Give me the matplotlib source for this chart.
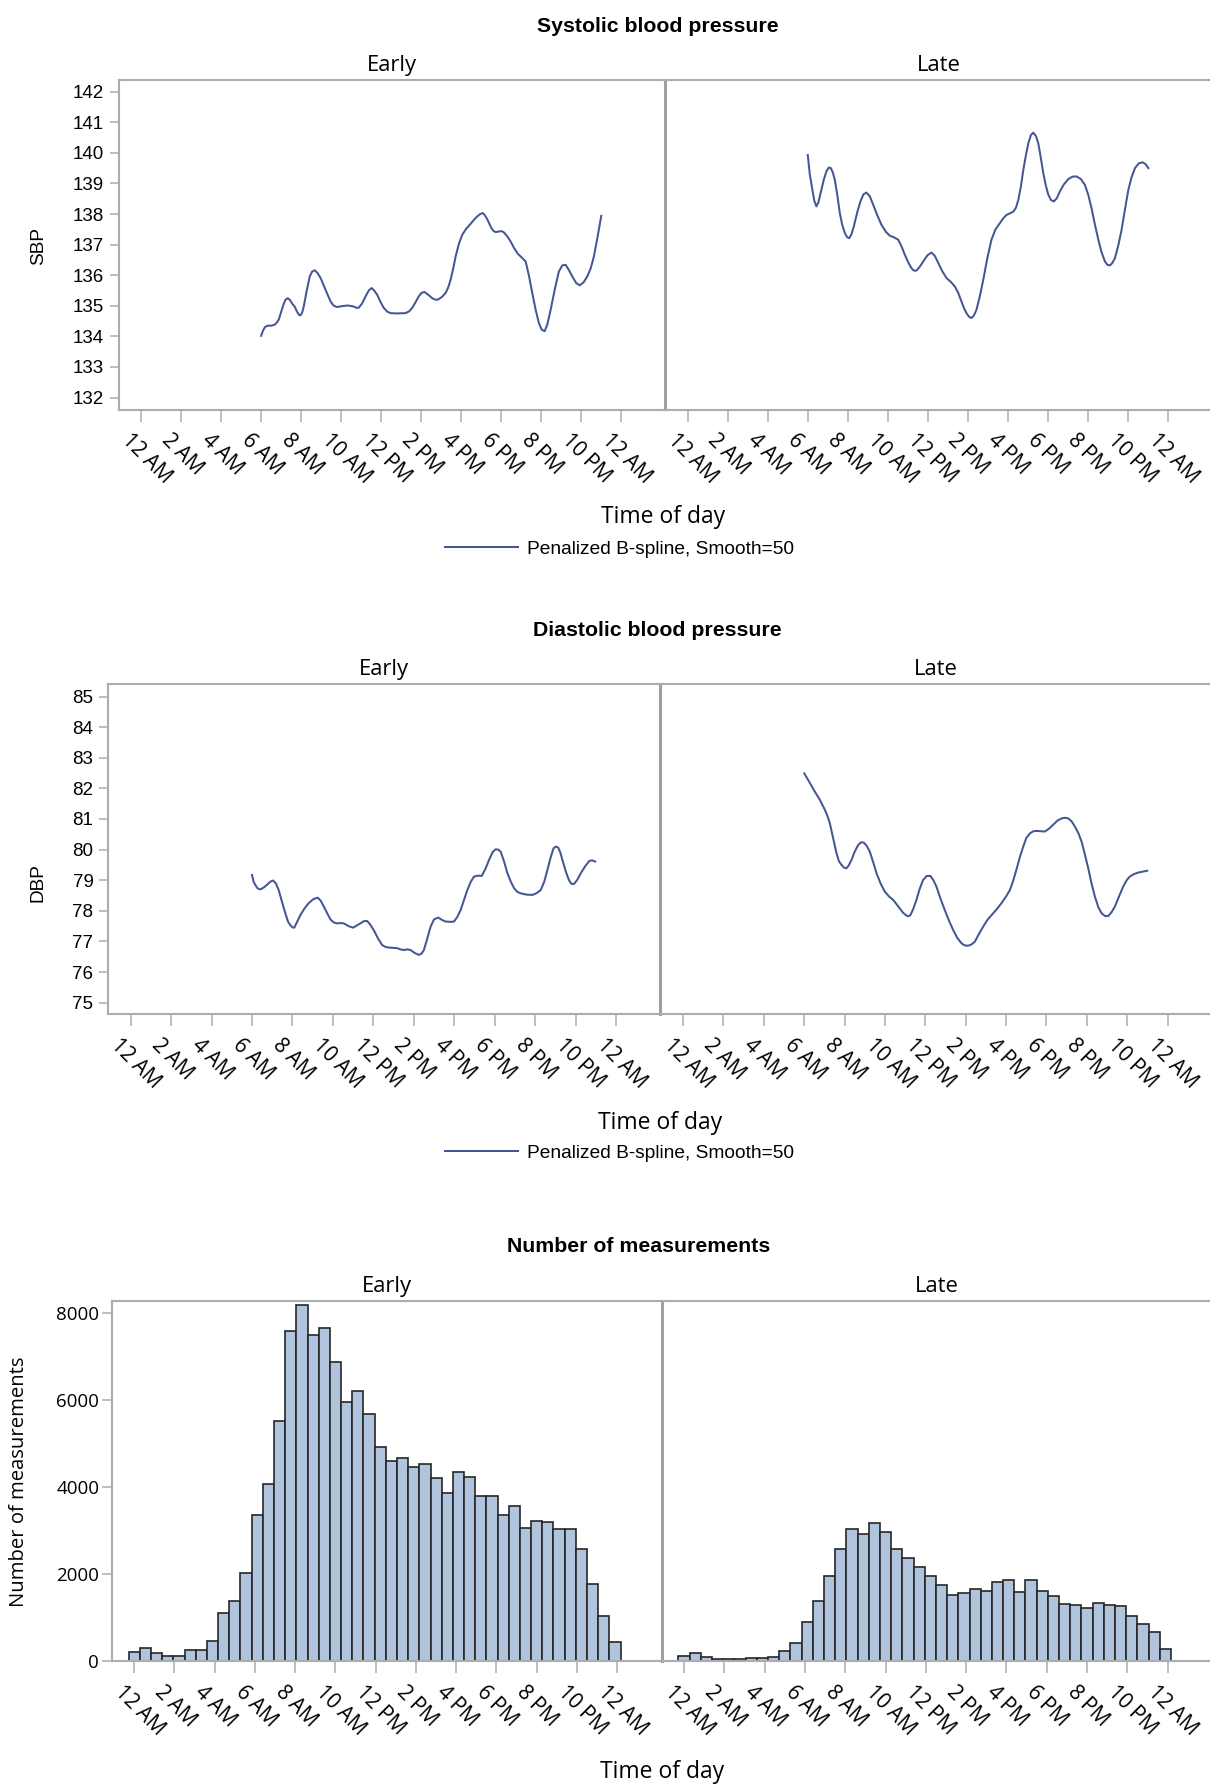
#!/usr/bin/env python3
"""Blood pressure by time of day, early vs late group.

Three stacked panels written to out.png:
  1. penalized B-spline fit of systolic blood pressure
  2. penalized B-spline fit of diastolic blood pressure
  3. number of measurements per 2000 s bin
"""

import matplotlib

matplotlib.use("Agg")
import matplotlib.pyplot as plt
import matplotlib.transforms as mtransforms
from matplotlib.lines import Line2D

FIG_W, FIG_H, DPI = 1210, 1784, 100

GROUPS = ["Early", "Late"]
HOUR_TICKS = [0, 2, 4, 6, 8, 10, 12, 14, 16, 18, 20, 22, 24]
HOUR_LABELS = ["12 AM", "2 AM", "4 AM", "6 AM", "8 AM", "10 AM", "12 PM",
               "2 PM", "4 PM", "6 PM", "8 PM", "10 PM", "12 AM"]

SBP_TICKS = list(range(132, 143))
DBP_TICKS = list(range(75, 86))
COUNT_TICKS = [0, 2000, 4000, 6000, 8000]

# spline fits, hour of day -> mmHg
SBP_EARLY_HOURS = [6.0, 6.1, 6.2, 6.33, 6.5, 6.67, 6.78, 6.88, 7.0, 7.12,
                   7.22, 7.33, 7.45, 7.57, 7.67, 7.8, 7.9, 7.97, 8.05, 8.13,
                   8.28, 8.43, 8.55, 8.68, 8.82, 8.97, 9.22, 9.47, 9.63, 9.8,
                   10.05, 10.33, 10.6, 10.78, 10.88, 11.05, 11.22, 11.38, 11.52,
                   11.65, 11.8, 11.97, 12.13, 12.3, 12.47, 12.8, 13.22, 13.4,
                   13.55, 13.72, 13.88, 14.03, 14.17, 14.35, 14.55, 14.7, 14.83,
                   15.02, 15.22, 15.35, 15.47, 15.6, 15.72, 15.88, 16.05, 16.25,
                   16.47, 16.65, 16.8, 16.95, 17.08, 17.18, 17.3, 17.5, 17.62,
                   17.72, 17.9, 18.02, 18.13, 18.3, 18.47, 18.65, 18.83, 19.02,
                   19.22, 19.38, 19.55, 19.72, 19.88, 20.02, 20.17, 20.3, 20.47,
                   20.68, 20.88, 21.05, 21.22, 21.38, 21.55, 21.75, 21.93, 22.12,
                   22.3, 22.47, 22.63, 22.8, 23.0]
SBP_EARLY = [134.02, 134.2, 134.31, 134.35, 134.35, 134.38, 134.45, 134.55,
             134.8, 135.05, 135.2, 135.25, 135.18, 135.05, 134.98, 134.8,
             134.7, 134.69, 134.78, 134.98, 135.5, 135.96, 136.12, 136.16,
             136.07, 135.91, 135.52, 135.14, 135.0, 134.96, 134.99, 135.01,
             134.98, 134.93, 134.94, 135.08, 135.31, 135.5, 135.58, 135.5,
             135.36, 135.12, 134.93, 134.81, 134.76, 134.75, 134.76, 134.82,
             134.93, 135.12, 135.31, 135.43, 135.45, 135.36, 135.25, 135.2,
             135.2, 135.28, 135.42, 135.6, 135.85, 136.22, 136.61, 137.02,
             137.32, 137.52, 137.68, 137.82, 137.92, 138.0, 138.03, 137.96,
             137.83, 137.55, 137.44, 137.41, 137.43, 137.44, 137.4, 137.27,
             137.1, 136.88, 136.7, 136.58, 136.45, 136.0, 135.42, 134.87,
             134.44, 134.22, 134.17, 134.38, 134.87, 135.55, 136.12, 136.32,
             136.34, 136.17, 135.96, 135.74, 135.67, 135.77, 135.96, 136.22,
             136.61, 137.2, 137.94]

SBP_LATE_HOURS = [6.0, 6.1, 6.23, 6.33, 6.43, 6.53, 6.68, 6.8, 6.93, 7.05,
                  7.15, 7.25, 7.35, 7.48, 7.6, 7.72, 7.85, 7.97, 8.07, 8.18,
                  8.3, 8.47, 8.63, 8.78, 8.93, 9.1, 9.27, 9.48, 9.68, 9.9,
                  10.1, 10.3, 10.52, 10.68, 10.85, 11.02, 11.18, 11.3, 11.43,
                  11.6, 11.77, 11.98, 12.18, 12.35, 12.52, 12.72, 12.93, 13.15,
                  13.35, 13.52, 13.68, 13.8, 13.93, 14.06, 14.18, 14.3, 14.43,
                  14.6, 14.77, 14.97, 15.18, 15.38, 15.6, 15.77, 15.93, 16.1,
                  16.27, 16.4, 16.52, 16.65, 16.77, 16.9, 17.02, 17.15, 17.27,
                  17.4, 17.52, 17.65, 17.77, 17.9, 18.02, 18.15, 18.3, 18.45,
                  18.6, 18.8, 19.02, 19.22, 19.43, 19.65, 19.85, 20.02, 20.18,
                  20.35, 20.52, 20.68, 20.85, 20.97, 21.1, 21.22, 21.35, 21.52,
                  21.68, 21.85, 22.02, 22.18, 22.35, 22.55, 22.73, 22.88, 23.02]
SBP_LATE = [139.93, 139.3, 138.79, 138.42, 138.25, 138.38, 138.79, 139.12,
            139.39, 139.52, 139.5, 139.36, 139.12, 138.6, 138.03, 137.65,
            137.38, 137.24, 137.21, 137.33, 137.59, 138.05, 138.41, 138.64,
            138.7, 138.58, 138.3, 137.95, 137.65, 137.42, 137.29, 137.24,
            137.16, 136.95, 136.67, 136.42, 136.23, 136.15, 136.15, 136.28,
            136.45, 136.65, 136.74, 136.63, 136.4, 136.13, 135.91, 135.78,
            135.63, 135.42, 135.14, 134.93, 134.76, 134.64, 134.6, 134.68,
            134.87, 135.32, 135.85, 136.55, 137.16, 137.5, 137.7, 137.86,
            137.97, 138.02, 138.08, 138.2, 138.46, 138.9, 139.44, 139.92,
            140.31, 140.58, 140.66, 140.55, 140.31, 139.82, 139.33, 138.92,
            138.63, 138.46, 138.41, 138.52, 138.74, 138.97, 139.14, 139.22,
            139.23, 139.14, 138.95, 138.62, 138.19, 137.65, 137.16, 136.75,
            136.45, 136.34, 136.32, 136.4, 136.56, 136.98, 137.48, 138.15,
            138.79, 139.2, 139.5, 139.66, 139.69, 139.63, 139.5]

DBP_EARLY_HOURS = [6.0, 6.08, 6.16, 6.28, 6.41, 6.58, 6.74, 6.9, 7.04, 7.18,
                   7.32, 7.48, 7.65, 7.78, 7.89, 8.0, 8.09, 8.24, 8.39, 8.6,
                   8.8, 9.03, 9.25, 9.4, 9.55, 9.72, 9.88, 10.04, 10.21, 10.38,
                   10.54, 10.78, 11.0, 11.18, 11.36, 11.52, 11.69, 11.85, 12.02,
                   12.23, 12.44, 12.6, 12.77, 13.0, 13.18, 13.35, 13.51, 13.68,
                   13.84, 14.05, 14.25, 14.38, 14.5, 14.67, 14.83, 15.0, 15.21,
                   15.4, 15.57, 15.8, 15.99, 16.15, 16.32, 16.48, 16.65, 16.82,
                   16.98, 17.18, 17.36, 17.55, 17.72, 17.9, 18.05, 18.18, 18.3,
                   18.47, 18.63, 18.8, 18.96, 19.12, 19.29, 19.58, 19.87, 20.08,
                   20.28, 20.45, 20.61, 20.77, 20.91, 21.03, 21.14, 21.25, 21.35,
                   21.52, 21.68, 21.8, 21.93, 22.1, 22.26, 22.47, 22.68, 22.82,
                   22.97]
DBP_EARLY = [79.17, 78.95, 78.85, 78.73, 78.7, 78.76, 78.85, 78.95, 78.99,
             78.9, 78.68, 78.3, 77.92, 77.65, 77.54, 77.46, 77.45, 77.65, 77.86,
             78.08, 78.25, 78.38, 78.43, 78.33, 78.14, 77.92, 77.72, 77.62,
             77.59, 77.6, 77.59, 77.5, 77.45, 77.52, 77.59, 77.66, 77.67, 77.55,
             77.37, 77.1, 76.88, 76.82, 76.8, 76.79, 76.78, 76.74, 76.72, 76.74,
             76.72, 76.62, 76.56, 76.6, 76.72, 77.1, 77.48, 77.72, 77.78, 77.7,
             77.65, 77.64, 77.65, 77.8, 78.03, 78.35, 78.68, 78.95, 79.12,
             79.15, 79.14, 79.38, 79.66, 79.92, 80.01, 80.0, 79.93, 79.6, 79.23,
             78.95, 78.74, 78.62, 78.57, 78.53, 78.52, 78.58, 78.68, 78.95,
             79.34, 79.75, 80.04, 80.1, 80.07, 79.9, 79.66, 79.28, 78.99, 78.88,
             78.88, 79.03, 79.23, 79.45, 79.63, 79.65, 79.61]

DBP_LATE_HOURS = [6.0, 6.26, 6.52, 6.78, 7.02, 7.15, 7.27, 7.44, 7.6, 7.72,
                  7.85, 7.97, 8.09, 8.2, 8.34, 8.5, 8.67, 8.82, 8.95, 9.1, 9.25,
                  9.42, 9.58, 9.78, 9.99, 10.2, 10.4, 10.57, 10.73, 10.88, 11.03,
                  11.15, 11.26, 11.4, 11.56, 11.72, 11.89, 12.07, 12.25, 12.4,
                  12.55, 12.75, 12.96, 13.17, 13.38, 13.58, 13.79, 13.95, 14.12,
                  14.28, 14.45, 14.66, 14.86, 15.07, 15.28, 15.52, 15.77, 15.98,
                  16.19, 16.35, 16.51, 16.68, 16.85, 17.0, 17.18, 17.35, 17.51,
                  17.72, 17.92, 18.12, 18.33, 18.55, 18.75, 18.92, 19.08, 19.25,
                  19.41, 19.58, 19.74, 19.9, 20.07, 20.23, 20.4, 20.57, 20.73,
                  20.9, 21.06, 21.22, 21.39, 21.6, 21.8, 21.97, 22.13, 22.34,
                  22.54, 22.77, 22.99]
DBP_LATE = [82.49, 82.2, 81.9, 81.62, 81.3, 81.1, 80.86, 80.35, 79.88, 79.62,
            79.5, 79.41, 79.39, 79.48, 79.66, 79.93, 80.15, 80.24, 80.23, 80.12,
            79.93, 79.58, 79.23, 78.9, 78.63, 78.47, 78.36, 78.22, 78.08,
            77.95, 77.86, 77.82, 77.86, 78.06, 78.36, 78.72, 79.01, 79.14,
            79.14, 79.0, 78.79, 78.4, 78.03, 77.68, 77.37, 77.12, 76.94, 76.87,
            76.86, 76.9, 76.99, 77.25, 77.48, 77.7, 77.86, 78.04, 78.25, 78.45,
            78.68, 78.98, 79.34, 79.75, 80.1, 80.38, 80.53, 80.6, 80.61, 80.6,
            80.59, 80.68, 80.81, 80.95, 81.02, 81.04, 81.02, 80.92, 80.75,
            80.54, 80.26, 79.85, 79.39, 78.9, 78.46, 78.12, 77.92, 77.83, 77.83,
            77.95, 78.14, 78.48, 78.79, 79.0, 79.12, 79.2, 79.25, 79.28, 79.31]

# counts per 2000 s bin, bins centred on 0, 2000, 4000, ... seconds
BIN_HOURS = 2000 / 3600
COUNT_EARLY = [220, 310, 200, 120, 130, 250, 250, 470, 1100, 1390, 2020, 3360,
               4080, 5530, 7590, 8200, 7490, 7660, 6870, 5960, 6220, 5680,
               4930, 4610, 4670, 4460, 4540, 4220, 3880, 4350, 4240, 3800,
               3810, 3370, 3580, 3070, 3220, 3200, 3040, 3030, 2590, 1770,
               1050, 440]
COUNT_LATE = [130, 200, 90, 60, 60, 50, 80, 80, 110, 240, 410, 900, 1380,
              1960, 2580, 3030, 2930, 3190, 2970, 2590, 2380, 2160, 1950, 1760,
              1530, 1560, 1670, 1620, 1820, 1860, 1600, 1860, 1620, 1500, 1320,
              1300, 1220, 1340, 1300, 1280, 1040, 850, 670, 290]

FIT_COLOR = "#445694"
BAR_FILL = "#B1C4DE"
BAR_EDGE = "#262626"
FRAME = "#A9ADB1"
DIVIDER = "#9C9FA3"

SANS = ["Liberation Sans", "DejaVu Sans"]
HUMANIST = ["Open Sans", "DejaVu Sans"]


def px_axes(fig, left, top, right, bottom):
    """Axes from a pixel box measured from the top-left corner."""
    return fig.add_axes([left / FIG_W, 1 - bottom / FIG_H,
                         (right - left) / FIG_W, (bottom - top) / FIG_H])


def setup_panel(ax, group, first, yticks, ylim, yfont, ysize, ylen, ypad):
    ax.set_xlim(-1.12, 26.2)
    ax.set_ylim(*ylim)
    ax.set_xticks(HOUR_TICKS)
    ax.set_xticklabels(HOUR_LABELS, rotation=-45, ha="left", va="top",
                       family=HUMANIST, fontsize=15.0)
    ax.tick_params(axis="x", direction="out", length=8.6, width=1.1,
                   color=FRAME, pad=6)

    if first:
        ax.set_yticks(yticks)
        ax.set_yticklabels([str(t) for t in yticks], family=yfont,
                           fontsize=ysize)
        ax.tick_params(axis="y", direction="out", length=ylen, width=1.1,
                       color=FRAME, pad=ypad)
    else:
        ax.set_yticks([])

    # diagonal labels start a little left of their tick; done after
    # tick_params, which resets the label transforms
    shift = mtransforms.ScaledTranslation(-24 / DPI, 0,
                                          ax.figure.dpi_scale_trans)
    for lab in ax.get_xticklabels():
        lab.set_transform(lab.get_transform() + shift)

    for side in ("top", "bottom", "left", "right"):
        ax.spines[side].set_color(FRAME)
        ax.spines[side].set_linewidth(1.5)
    ax.spines["right"].set_visible(False)
    if not first:
        ax.spines["left"].set_color(DIVIDER)
        ax.spines["left"].set_linewidth(2.2)

    ax.set_title(group, family=HUMANIST, fontsize=15.8, pad=6.5)


def fit_legend(fig, y_px):
    handle = Line2D([], [], color=FIT_COLOR, lw=1.45)
    fig.legend([handle], ["Penalized B-spline, Smooth=50"], loc="center",
               bbox_to_anchor=(619.5 / FIG_W, 1 - y_px / FIG_H),
               frameon=False, prop={"family": SANS, "size": 13.8},
               handlelength=3.8, handletextpad=0.47, borderpad=0,
               borderaxespad=0)


def main():
    fig = plt.figure(figsize=(FIG_W / DPI, FIG_H / DPI), dpi=DPI)
    fig.patch.set_facecolor("white")

    # --- systolic ---
    sbp = [(SBP_EARLY_HOURS, SBP_EARLY), (SBP_LATE_HOURS, SBP_LATE)]
    boxes = [(118.7, 665.3), (665.3, 1212)]
    for i, (group, (hours, vals), (x0, x1)) in enumerate(zip(GROUPS, sbp, boxes)):
        ax = px_axes(fig, x0, 80, x1, 409.5)
        ax.plot(hours, vals, color=FIT_COLOR, lw=1.45)
        setup_panel(ax, group, i == 0, SBP_TICKS, (131.61, 142.38),
                    SANS, 13.5, 6.5, 4)
    fig.text(657.5 / FIG_W, 1 - 32 / FIG_H, "Systolic blood pressure",
             family=SANS, weight="bold", fontsize=15.3, ha="center",
             va="baseline")
    fig.text(38.5 / FIG_W, 1 - 246 / FIG_H, "SBP", family=SANS, fontsize=13.7,
             rotation=90, ha="center", va="center")
    fig.text(663 / FIG_W, 1 - 523 / FIG_H, "Time of day", family=HUMANIST,
             fontsize=16.5, ha="center", va="baseline")
    fit_legend(fig, 549)

    # --- diastolic ---
    dbp = [(DBP_EARLY_HOURS, DBP_EARLY), (DBP_LATE_HOURS, DBP_LATE)]
    boxes = [(108, 660.5), (660.5, 1212)]
    for i, (group, (hours, vals), (x0, x1)) in enumerate(zip(GROUPS, dbp, boxes)):
        ax = px_axes(fig, x0, 684.3, x1, 1014.3)
        ax.plot(hours, vals, color=FIT_COLOR, lw=1.45)
        setup_panel(ax, group, i == 0, DBP_TICKS, (74.62, 85.4),
                    SANS, 13.5, 6.5, 4)
    fig.text(657.4 / FIG_W, 1 - 636 / FIG_H, "Diastolic blood pressure",
             family=SANS, weight="bold", fontsize=15.3, ha="center",
             va="baseline")
    fig.text(38 / FIG_W, 1 - 883 / FIG_H, "DBP", family=SANS, fontsize=13.7,
             rotation=90, ha="center", va="center")
    fig.text(660 / FIG_W, 1 - 1129 / FIG_H, "Time of day", family=HUMANIST,
             fontsize=16.5, ha="center", va="baseline")
    fit_legend(fig, 1153)

    # --- measurement counts ---
    counts = [COUNT_EARLY, COUNT_LATE]
    boxes = [(111.7, 661.5), (661.5, 1212)]
    for i, (group, vals, (x0, x1)) in enumerate(zip(GROUPS, counts, boxes)):
        ax = px_axes(fig, x0, 1301, x1, 1661.3)
        centers = [k * BIN_HOURS for k in range(len(vals))]
        ax.bar(centers, vals, width=BIN_HOURS, color=BAR_FILL,
               edgecolor=BAR_EDGE, linewidth=1.2, align="center")
        setup_panel(ax, group, i == 0, COUNT_TICKS, (0, 8283),
                    HUMANIST, 13.5, 7, 2)
    fig.text(639 / FIG_W, 1 - 1252 / FIG_H, "Number of measurements",
             family=SANS, weight="bold", fontsize=15.3, ha="center",
             va="baseline")
    fig.text(19.5 / FIG_W, 1 - 1482 / FIG_H, "Number of measurements",
             family=HUMANIST, fontsize=14.6, rotation=90, ha="center",
             va="center")
    fig.text(662 / FIG_W, 1 - 1778 / FIG_H, "Time of day", family=HUMANIST,
             fontsize=16.5, ha="center", va="baseline")

    fig.savefig("out.png", dpi=DPI)
    plt.close(fig)


if __name__ == "__main__":
    main()
